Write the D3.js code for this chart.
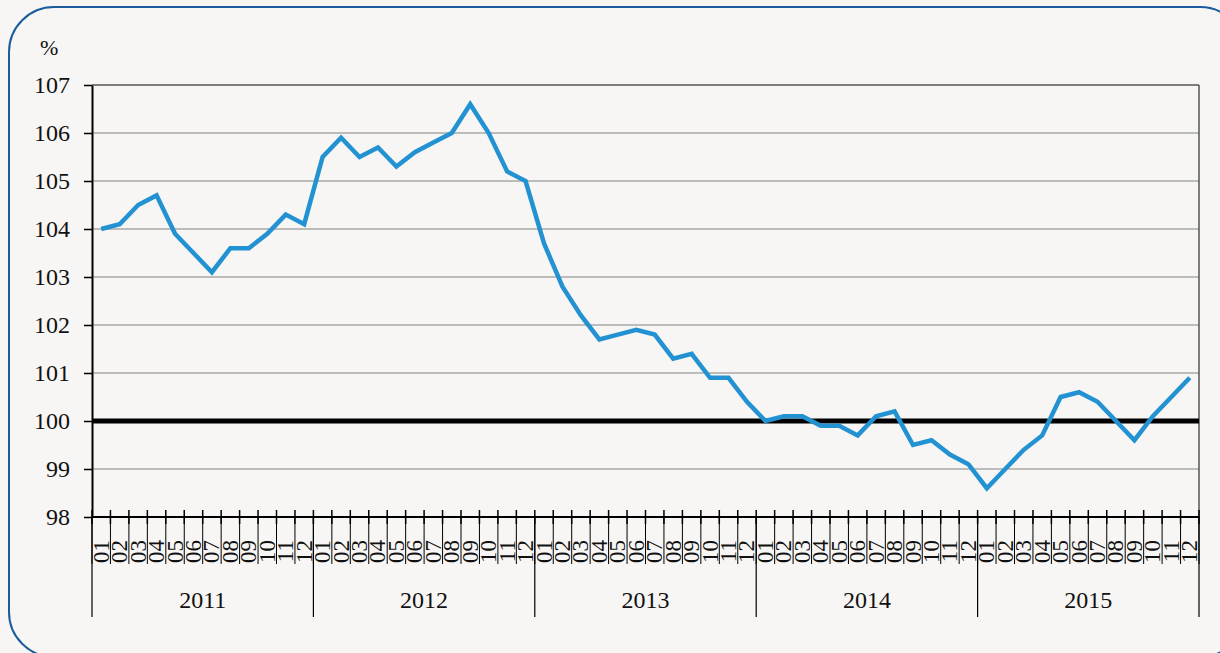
<!DOCTYPE html>
<html>
<head>
    <meta charset="utf-8">
    <script src="https://d3js.org/d3.v7.min.js"></script>
    <style>
        body { margin: 0; background: #f7f6f4; }
        svg { display: block; font-family: 'Liberation Serif', 'DejaVu Serif', serif; }
    </style>
</head>
<body>
<svg width="1220" height="653"></svg>
<script>
    // monthly index, 2011-01 .. 2015-12
    let years = ["2011", "2012", "2013", "2014", "2015"]
    let months = ["01","02","03","04","05","06","07","08","09","10","11","12"]
    let yTicks = [98, 99, 100, 101, 102, 103, 104, 105, 106, 107]
    let values = [
        104.0, 104.1, 104.5, 104.7, 103.9, 103.5, 103.1, 103.6, 103.6, 103.9, 104.3, 104.1,
        105.5, 105.9, 105.5, 105.7, 105.3, 105.6, 105.8, 106.0, 106.6, 106.0, 105.2, 105.0,
        103.7, 102.8, 102.2, 101.7, 101.8, 101.9, 101.8, 101.3, 101.4, 100.9, 100.9, 100.4,
        100.0, 100.1, 100.1, 99.9, 99.9, 99.7, 100.1, 100.2, 99.5, 99.6, 99.3, 99.1,
        98.6, 99.0, 99.4, 99.7, 100.5, 100.6, 100.4, 100.0, 99.6, 100.1, 100.5, 100.9
    ]
    let baseline = 100

    let data = values.map((v, i) => ({
        key: years[Math.floor(i / 12)] + "-" + months[i % 12],
        year: years[Math.floor(i / 12)],
        month: months[i % 12],
        value: v
    }))

    let plotLeft = 92, plotRight = 1199, plotTop = 85, plotBottom = 517

    let svg = d3.select("svg")

    // frame
    svg.append("rect")
        .attr("x", 9).attr("y", 7)
        .attr("width", 1236).attr("height", 650)
        .attr("rx", 45).attr("ry", 45)
        .style("fill", "#f7f6f4")
        .style("stroke", "#1b5c9e")
        .style("stroke-width", 2)

    let x = d3.scaleBand()
        .domain(data.map(d => d.key))
        .range([plotLeft, plotRight])
        .padding(0)

    let y = d3.scaleLinear()
        .domain([98, 107])
        .range([plotBottom, plotTop])

    // gridlines
    svg.append("g")
        .selectAll("line")
        .data(yTicks.filter(t => t !== baseline && t !== 98))
        .join("line")
        .attr("x1", plotLeft).attr("x2", plotRight)
        .attr("y1", d => y(d)).attr("y2", d => y(d))
        .style("stroke", d => d === 107 ? "#555" : "#a8a8a8")
        .style("stroke-width", 1.5)

    // right border
    svg.append("line")
        .attr("x1", plotRight).attr("x2", plotRight)
        .attr("y1", plotTop).attr("y2", plotBottom)
        .style("stroke", "#555")
        .style("stroke-width", 1.5)

    // y axis
    let yAxis = svg.append("g")
        .attr("transform", `translate(${plotLeft},0)`)
        .call(d3.axisLeft(y).tickValues(yTicks).tickSize(8).tickSizeOuter(0).tickFormat(d3.format("d")))
    yAxis.select(".domain").style("stroke", "#000").style("stroke-width", 2)
    yAxis.selectAll(".tick line").style("stroke", "#000").style("stroke-width", 1.5)
    yAxis.selectAll(".tick text")
        .attr("x", -22)
        .style("font-size", "24px")
        .style("font-family", "'Liberation Serif', serif")
        .style("fill", "#111")

    svg.append("text")
        .attr("x", 40).attr("y", 55)
        .text("%")
        .style("font-size", "22px")
        .style("fill", "#111")

    // x axis: month ticks
    let xAxis = svg.append("g")
        .attr("transform", `translate(0,${plotBottom})`)

    xAxis.append("line")
        .attr("x1", plotLeft).attr("x2", plotRight)
        .style("stroke", "#000").style("stroke-width", 2)

    let bounds = data.map(d => x(d.key)).concat([plotRight])
    xAxis.selectAll(".mtick")
        .data(bounds)
        .join("line")
        .attr("class", "mtick")
        .attr("x1", d => d).attr("x2", d => d)
        .attr("y1", -7).attr("y2", 7)
        .style("stroke", "#000").style("stroke-width", 1.5)

    // vertical separators through the month labels
    xAxis.selectAll(".msep")
        .data(bounds)
        .join("line")
        .attr("class", "msep")
        .attr("x1", d => d).attr("x2", d => d)
        .attr("y1", 0).attr("y2", 47)
        .style("stroke", "#000").style("stroke-width", 1)

    xAxis.selectAll(".mlabel")
        .data(data)
        .join("text")
        .attr("class", "mlabel")
        .attr("transform", d => `translate(${x(d.key) + x.bandwidth() / 2},23) rotate(-90)`)
        .attr("text-anchor", "end")
        .attr("dominant-baseline", "central")
        .text(d => d.month)
        .style("font-size", "23px")
        .style("fill", "#111")

    // year separators and labels
    let yearStart = years.map(yr => x(yr + "-01")).concat([plotRight])
    xAxis.selectAll(".ysep")
        .data(yearStart)
        .join("line")
        .attr("class", "ysep")
        .attr("x1", d => d).attr("x2", d => d)
        .attr("y1", 0).attr("y2", 100)
        .style("stroke", "#000").style("stroke-width", 1.2)

    xAxis.selectAll(".ylabel")
        .data(years)
        .join("text")
        .attr("class", "ylabel")
        .attr("x", (d, i) => (yearStart[i] + yearStart[i + 1]) / 2)
        .attr("y", 91)
        .attr("text-anchor", "middle")
        .text(d => d)
        .style("font-size", "24px")
        .style("fill", "#111")

    // 100 baseline
    svg.append("line")
        .attr("x1", plotLeft).attr("x2", plotRight)
        .attr("y1", y(baseline)).attr("y2", y(baseline))
        .style("stroke", "#000")
        .style("stroke-width", 5)

    // series line
    let line = d3.line()
        .x(d => x(d.key) + x.bandwidth() / 2)
        .y(d => y(d.value))

    svg.append("path")
        .datum(data)
        .attr("d", line)
        .style("fill", "none")
        .style("stroke", "#2292d2")
        .style("stroke-width", 4.5)
        .style("stroke-linejoin", "miter")
</script>
</body>
</html>
